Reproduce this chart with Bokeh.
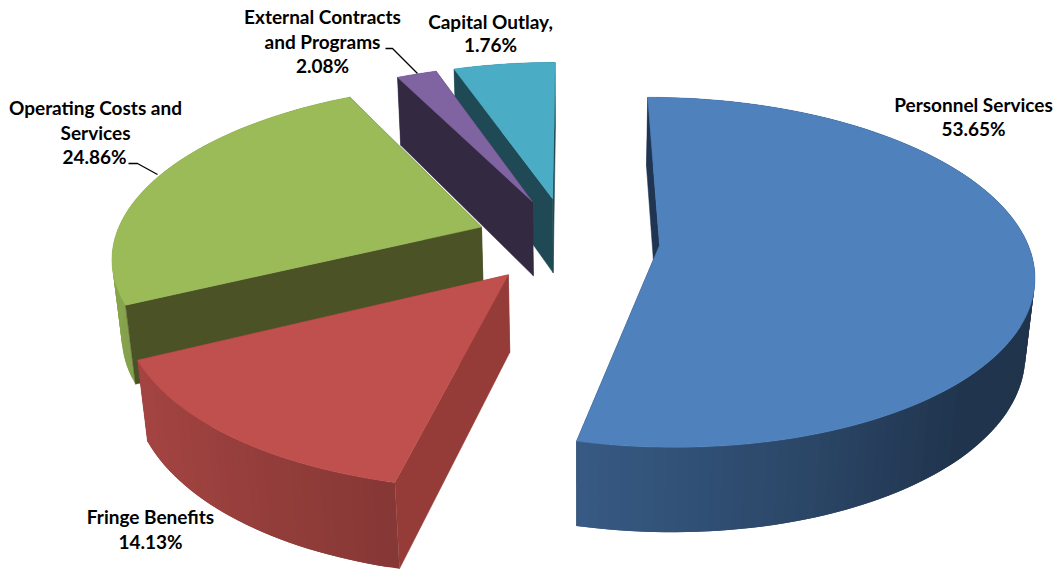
import numpy as np
from bokeh.core.properties import value
from bokeh.embed import file_html
from bokeh.models import Range1d
from bokeh.plotting import figure
from bokeh.resources import INLINE

# Shares of the budget, clockwise from twelve o'clock.
categories = ["Personnel Services", "Fringe Benefits", "Operating Costs and Services",
              "External Contracts and Programs", "Capital Outlay,"]
shares = [53.65, 14.13, 24.86, 2.08, 1.76]
# The stated shares leave a remainder with no label of its own; it sits in the last slice's colour.
unlabelled = round(100 - sum(shares), 2)

top_colors = ["#4f81bd", "#c0504d", "#9bbb59", "#8064a2", "#4bacc6"]
cut_colors = ["#1f3552", "#953c39", "#4a5226", "#332a42", "#1f4a55"]
explode = [0.251, 0.251, 0.251, 0.258, 0.259]

# Camera of the tilted pie: screen position of a disc point (u, v) at depth z.
XV, YV = 578.0, 239.95
SCALE_X, SCALE_Y = 367.11, 169.32
NEAR_K, DROP_M, THICK = 0.1542, 0.0209, 77.59
U0, START_DEG = -0.0296, -0.18


def project(u, v, z=0.0):
    w = 1 - NEAR_K * v + DROP_M * z
    return XV + SCALE_X * (u + U0) / w, YV + (SCALE_Y * v + THICK * z) / w


def shade(hex_color, factor):
    rgb = [int(hex_color[i:i + 2], 16) for i in (1, 3, 5)]
    return "#" + "".join(f"{int(round(c * factor)):02x}" for c in rgb)


def rim_factor(theta):
    # Outer wall catches light on the left and falls into shadow on the right.
    return float(np.interp(np.sin(theta), [-1, -0.2, 0.3, 0.7, 1], [0.88, 0.69, 0.55, 0.41, 0.40]))


p = figure(width=1056, height=569, output_backend="svg", toolbar_location=None,
           x_range=Range1d(0, 1056), y_range=Range1d(569, 0), min_border=0,
           outline_line_color=None, background_fill_color="white")
p.axis.visible = False
p.grid.visible = False

spans = shares[:-1] + [shares[-1] + unlabelled]
edges = np.radians(START_DEG + np.concatenate([[0], np.cumsum(spans)]) * 3.6)

slices = []
for i in range(len(spans)):
    a0, a1 = edges[i], edges[i + 1]
    mid = (a0 + a1) / 2
    cu, cv = explode[i] * np.sin(mid), -explode[i] * np.cos(mid)
    th = np.linspace(a0, a1, max(3, int(np.degrees(a1 - a0) / 1.5) + 2))
    us, vs = cu + np.sin(th), cv - np.cos(th)
    walls = []
    # Outer wall in narrow strips; each strip reaches over its neighbour to hide the joins.
    for j in range(len(th) - 1):
        n = min(j + 2, len(th) - 1)
        fu = np.array([us[j], us[n], us[n], us[j]])
        fv = np.array([vs[j], vs[n], vs[n], vs[j]])
        fz = np.array([0, 0, 1, 1])
        factor = rim_factor((th[j] + th[j + 1]) / 2)
        walls.append((*project(fu, fv, fz), shade(top_colors[i], factor)))
    # Cut faces from the apex out to the rim: the leading one shows, the trailing one faces away.
    cuts = []
    for t_u, t_v in ((us[0], vs[0]), (us[-1], vs[-1])):
        fu = np.array([cu, t_u, t_u, cu])
        fv = np.array([cv, t_v, t_v, cv])
        cuts.append(project(fu, fv, np.array([0, 0, 1, 1])))
    top_x, top_y = project(np.r_[cu, us], np.r_[cv, vs])
    slices.append((walls, cuts, top_x, top_y, top_colors[i], cut_colors[i]))

# Far slices first so that the nearer ones sit on top of them.
for i in (4, 3, 2, 0, 1):
    walls, cuts, top_x, top_y, color, cut = slices[i]
    p.patch(list(cuts[1][0]), list(cuts[1][1]), fill_color=cut, line_color=cut, line_width=0.5)
    p.patches([list(f[0]) for f in walls], [list(f[1]) for f in walls],
              fill_color=[f[2] for f in walls], line_color=None)
    p.patch(list(cuts[0][0]), list(cuts[0][1]), fill_color=cut, line_color=cut, line_width=0.5)
    p.patch(list(top_x), list(top_y), fill_color=color, line_color=color, line_width=0.5)

# Leader lines for the two labels that sit away from their slices.
p.line([385, 392, 417], [48, 48, 73], line_color="black", line_width=1.3)
p.line([128, 137, 157], [163, 163, 174], line_color="black", line_width=1.3)

label_lines = [
    ("Personnel Services", 973, 104), ("53.65%", 973, 128),
    ("Fringe Benefits", 150, 516), ("14.13%", 150, 541),
    ("Operating Costs and", 95, 107), ("Services", 95, 132), ("24.86%", 94, 156),
    ("External Contracts", 322, 16), ("and Programs", 322, 41), ("2.08%", 322, 65),
    ("Capital Outlay,", 490, 21), ("1.76%", 490, 44),
]
p.text([t[1] for t in label_lines], [t[2] for t in label_lines], text=[t[0] for t in label_lines],
       text_font=value("Lato"), text_font_style="bold", text_font_size="19px",
       text_color="black", text_align="center", text_baseline="middle")

open("out.html", "w").write(file_html(p, INLINE))
